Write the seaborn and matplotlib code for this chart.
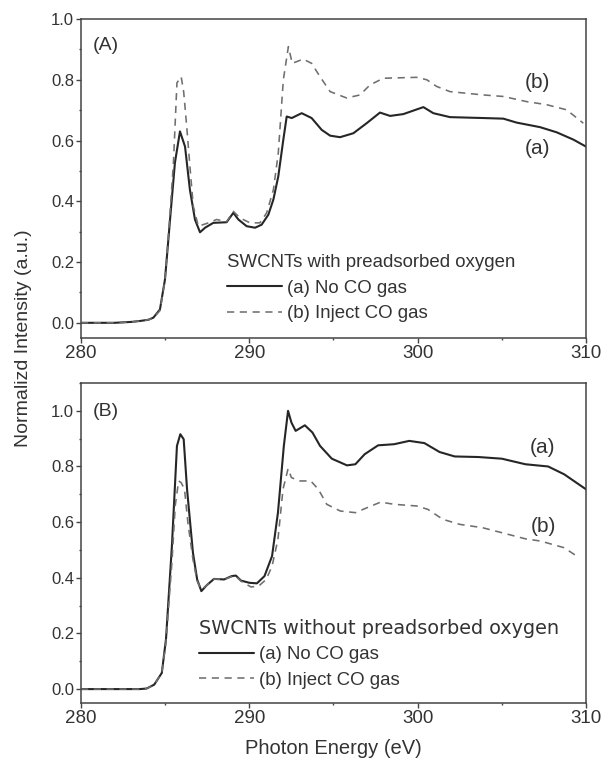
import matplotlib as mpl
mpl.use('agg')
import matplotlib.pyplot as plt
from matplotlib.ticker import MultipleLocator, FormatStrFormatter
import pandas as pd
import seaborn as sns

# data (photon energy in eV, normalized intensity)
xa_top = [280, 281, 282, 283, 283.5, 284, 284.3, 284.69, 284.99, 285.29, 285.58, 285.88, 286.18, 286.47,
          286.77, 287.07, 287.37, 287.86, 288.65, 289.05, 289.35, 289.84, 290.34, 290.73, 291.13, 291.43,
          291.72, 292.02, 292.22, 292.52, 293.11, 293.7, 294.3, 294.8, 295.39, 296.18, 296.97, 297.76,
          298.36, 299.15, 300.34, 300.93, 301.92, 303.9, 305.09, 305.88, 307.27, 308.26, 309.25, 310]
ya_top = [0, 0, 0, 0.003, 0.006, 0.01, 0.017, 0.044, 0.143, 0.34, 0.527, 0.63, 0.58, 0.438,
          0.34, 0.298, 0.313, 0.329, 0.331, 0.362, 0.34, 0.318, 0.313, 0.323, 0.356, 0.406,
          0.482, 0.603, 0.679, 0.674, 0.69, 0.674, 0.635, 0.616, 0.611, 0.624, 0.657, 0.692,
          0.681, 0.687, 0.71, 0.69, 0.677, 0.674, 0.672, 0.659, 0.644, 0.627, 0.603, 0.58]

xb_top = [280, 281, 282, 283, 283.5, 284, 284.3, 284.69, 284.99, 285.25, 285.49, 285.7, 285.95, 286.1,
          286.28, 286.47, 286.67, 286.97, 287.47, 288.06, 288.65, 289.05, 289.45, 290.04, 290.63, 291.03,
          291.43, 291.72, 292.02, 292.32, 292.55, 293.2, 293.7, 294.2, 294.8, 295.78, 296.57, 297.17,
          297.96, 299.94, 300.54, 301.13, 301.92, 303.9, 305.09, 306.48, 307.66, 308.85, 309.84]
yb_top = [0, 0, 0, 0.003, 0.006, 0.01, 0.016, 0.04, 0.14, 0.33, 0.526, 0.79, 0.81, 0.76,
          0.646, 0.515, 0.384, 0.318, 0.327, 0.34, 0.333, 0.367, 0.345, 0.329, 0.329, 0.362,
          0.438, 0.559, 0.8, 0.909, 0.854, 0.868, 0.854, 0.81, 0.761, 0.74, 0.75, 0.783,
          0.805, 0.808, 0.8, 0.778, 0.761, 0.75, 0.745, 0.728, 0.718, 0.701, 0.657]

xa_bot = [280, 282, 283.5, 283.9, 284.35, 284.8, 285.05, 285.4, 285.7, 285.9, 286.1, 286.3, 286.65,
          286.9, 287.15, 287.45, 287.9, 288.5, 288.95, 289.2, 289.5, 290.0, 290.45, 290.9, 291.35,
          291.7, 292.05, 292.3, 292.5, 292.75, 293.3, 293.75, 294.2, 294.9, 295.8, 296.3, 296.85,
          297.65, 298.6, 299.5, 300.4, 301.3, 302.2, 303.6, 305, 306.4, 307.75, 308.7, 310]
ya_bot = [0, 0, 0, 0.002, 0.016, 0.058, 0.18, 0.514, 0.874, 0.916, 0.898, 0.718, 0.49,
          0.394, 0.352, 0.372, 0.396, 0.394, 0.406, 0.408, 0.39, 0.382, 0.38, 0.406, 0.478,
          0.634, 0.874, 1.0, 0.958, 0.928, 0.948, 0.922, 0.874, 0.828, 0.804, 0.808, 0.844,
          0.876, 0.88, 0.892, 0.884, 0.852, 0.836, 0.834, 0.828, 0.808, 0.8, 0.772, 0.718]

xb_bot = [280, 282, 283.5, 283.9, 284.35, 284.8, 285.05, 285.4, 285.6, 285.8, 285.95, 286.15, 286.35,
          286.65, 286.9, 287.15, 287.45, 287.9, 288.5, 288.95, 289.2, 289.5, 290.1, 290.55, 291.0,
          291.35, 291.7, 292.0, 292.3, 292.5, 293.0, 293.65, 294.1, 294.6, 295.4, 296.3, 297.0,
          297.8, 298.6, 299.95, 300.6, 301.5, 302.5, 303.85, 305, 306.4, 307.3, 308.7, 309.6]
yb_bot = [0, 0, 0, 0.002, 0.016, 0.058, 0.17, 0.454, 0.66, 0.748, 0.742, 0.718, 0.598,
          0.466, 0.388, 0.358, 0.372, 0.396, 0.394, 0.404, 0.406, 0.388, 0.367, 0.37, 0.394,
          0.442, 0.538, 0.718, 0.792, 0.76, 0.748, 0.748, 0.718, 0.664, 0.64, 0.634, 0.652,
          0.672, 0.664, 0.658, 0.646, 0.61, 0.592, 0.58, 0.562, 0.54, 0.532, 0.508, 0.472]

label_a = '(a) No CO gas'
label_b = '(b) Inject CO gas'
titles = ['SWCNTs with preadsorbed oxygen', 'SWCNTs without preadsorbed oxygen']
panels = ['(A)', '(B)']

sns.set_theme(style='ticks')
plt.rcParams['font.family'] = ['Liberation Sans', 'DejaVu Sans']
txt = '#333333'
edge = '#444444'
plt.rcParams.update({'text.color': txt, 'axes.labelcolor': txt,
                     'xtick.color': edge, 'ytick.color': edge,
                     'xtick.labelcolor': txt, 'ytick.labelcolor': txt,
                     'lines.solid_joinstyle': 'round', 'lines.dash_joinstyle': 'round'})

fig = plt.figure(figsize=(6.05, 7.63), dpi=100)
ax1 = fig.add_axes([81 / 605, 1 - 338 / 763, 505 / 605, 319 / 763])
ax2 = fig.add_axes([81 / 605, 1 - 703 / 763, 505 / 605, 320 / 763])

sets = [(ax1, xa_top, ya_top, xb_top, yb_top), (ax2, xa_bot, ya_bot, xb_bot, yb_bot)]
for ax, xa, ya, xb, yb in sets:
    sns.lineplot(x=xa, y=ya, ax=ax, color='#262626', lw=1.5, label=label_a)
    sns.lineplot(x=xb, y=yb, ax=ax, color='#6f6f6f', lw=1.15, label=label_b, dashes=(4.5, 3.5))
    ax.set_xlim(280, 310)
    ax.xaxis.set_major_locator(MultipleLocator(10))
    ax.xaxis.set_minor_locator(MultipleLocator(5))
    ax.yaxis.set_major_locator(MultipleLocator(0.2))
    ax.yaxis.set_minor_locator(MultipleLocator(0.1))
    ax.yaxis.set_major_formatter(FormatStrFormatter('%.1f'))
    ax.tick_params(which='major', direction='out', length=3.5, width=1, pad=1.5)
    ax.tick_params(which='minor', direction='out', length=1.5, width=1)
    ax.tick_params(axis='x', labelsize=13.5)
    ax.tick_params(axis='y', labelsize=12)
    for s in ax.spines.values():
        s.set_color(edge)
        s.set_linewidth(1.1)
    ax.set_xlabel('')
    ax.set_ylabel('')

ax1.set_ylim(-0.05, 1.0)
ax2.set_ylim(-0.05, 1.1)

# legends with a title line
ax1.legend(title=titles[0], loc='lower left', bbox_to_anchor=(0.289, 0.05), frameon=False,
           fontsize=13.4, title_fontsize=13.4, alignment='left', borderpad=0, borderaxespad=0,
           handlelength=2.95, handletextpad=0.27, labelspacing=0.45)
ax2.legend(title=titles[1], loc='lower left', bbox_to_anchor=(0.234, 0.045), frameon=False,
           fontsize=13.4, alignment='left', borderpad=0, borderaxespad=0,
           handlelength=2.95, handletextpad=0.27, labelspacing=0.45,
           title_fontproperties={'family': 'DejaVu Sans', 'size': 13.9})

# panel tags and curve tags
ax1.text(0.024, 0.918, panels[0], transform=ax1.transAxes, fontsize=14, va='center')
ax2.text(0.024, 0.91, panels[1], transform=ax2.transAxes, fontsize=14, va='center')
ax1.text(307.1, 0.79, '(b)', fontsize=15, ha='center', va='center')
ax1.text(307.1, 0.575, '(a)', fontsize=15, ha='center', va='center')
ax2.text(307.4, 0.868, '(a)', fontsize=15, ha='center', va='center')
ax2.text(307.5, 0.586, '(b)', fontsize=15, ha='center', va='center')

fig.text(24 / 605, 1 - 338 / 763, 'Normalizd Intensity (a.u.)', rotation=90,
         ha='center', va='center', fontsize=14)
fig.text(333.5 / 605, 1 - 748 / 763, 'Photon Energy (eV)', ha='center', va='center', fontsize=14.5)

plt.savefig('out.png', dpi=100)
